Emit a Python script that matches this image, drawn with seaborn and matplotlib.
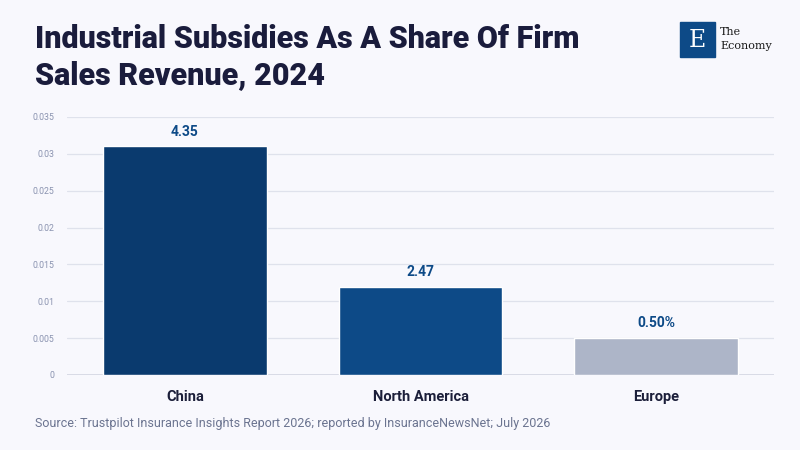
import matplotlib
matplotlib.use("Agg")
import matplotlib.pyplot as plt
import matplotlib.ticker as mticker
from matplotlib.patches import Rectangle
import seaborn as sns
import pandas as pd

categories = ["China", "North America", "Europe"]
values = [0.031, 0.012, 0.005]
value_labels = ["4.35", "2.47", "0.50%"]
bar_colors = ["#0a3a6e", "#0d4a87", "#adb5c8"]
y_ticks = [0, 0.005, 0.01, 0.015, 0.02, 0.025, 0.03, 0.035]

title = "Industrial Subsidies As A Share Of Firm\nSales Revenue, 2024"
source = "Source: Trustpilot Insurance Insights Report 2026; reported by InsuranceNewsNet; July 2026"

bg = "#f8f8fd"
sns.set_theme(style="white")
plt.rcParams["font.family"] = ["Roboto", "DejaVu Sans"]

df = pd.DataFrame({"region": categories, "value": values})

fig = plt.figure(figsize=(8, 4.5), dpi=100, facecolor=bg)
ax = fig.add_axes([0.084, 0.1667, 0.8835, 0.5733])
ax.set_facecolor(bg)

sns.barplot(data=df, x="region", y="value", hue="region", palette=bar_colors,
            width=0.695, legend=False, ax=ax, saturation=1)

ax.set_ylim(0, 0.035)
ax.set_xlim(-0.5, 2.5)
ax.set_yticks(y_ticks)
ax.yaxis.set_major_formatter(mticker.FuncFormatter(lambda v, p: f"{v:g}"))
ax.grid(axis="y", color="#dfe2ec", linewidth=0.9)
ax.set_axisbelow(True)
for s in ax.spines.values():
    s.set_visible(False)
ax.axhline(0, color="#d3d6e2", linewidth=1.2, zorder=0.5)
ax.tick_params(axis="y", labelsize=6.3, labelcolor="#8a93b0", length=0, pad=9)
ax.tick_params(axis="x", labelsize=10.5, labelcolor="#1c1f3a", length=0, pad=10.5)
for lab in ax.get_xticklabels():
    lab.set_fontweight("bold")
ax.set_xlabel("")
ax.set_ylabel("")

for i, (v, lab) in enumerate(zip(values, value_labels)):
    ax.annotate(lab, (i, v), xytext=(0, 5.5), textcoords="offset points",
                ha="center", va="bottom", fontsize=10, fontweight="bold",
                color="#0d4a87")

fig.text(0.044, 0.873, title, fontsize=22, fontweight="heavy", color="#1a1c3c",
         ha="left", va="center", linespacing=1.25)

fig.text(0.044, 0.058, source, fontsize=9, color="#6b7490", ha="left", va="center")

# logo
logo_ax = fig.add_axes([0, 0, 1, 1], facecolor="none")
logo_ax.set_xlim(0, 800)
logo_ax.set_ylim(450, 0)
logo_ax.axis("off")
logo_ax.add_patch(Rectangle((680, 22), 35, 35, color="#0d4a87"))
logo_ax.text(697.5, 40.5, "E", fontsize=17, color="white", family="DejaVu Serif",
             ha="center", va="center")
logo_ax.text(720, 32, "The", fontsize=8, color="#1a1a1a", family="DejaVu Serif",
             ha="left", va="center")
logo_ax.text(720, 46, "Economy", fontsize=8, color="#1a1a1a", family="DejaVu Serif",
             ha="left", va="center")

fig.savefig("out.png", dpi=100, facecolor=bg)
